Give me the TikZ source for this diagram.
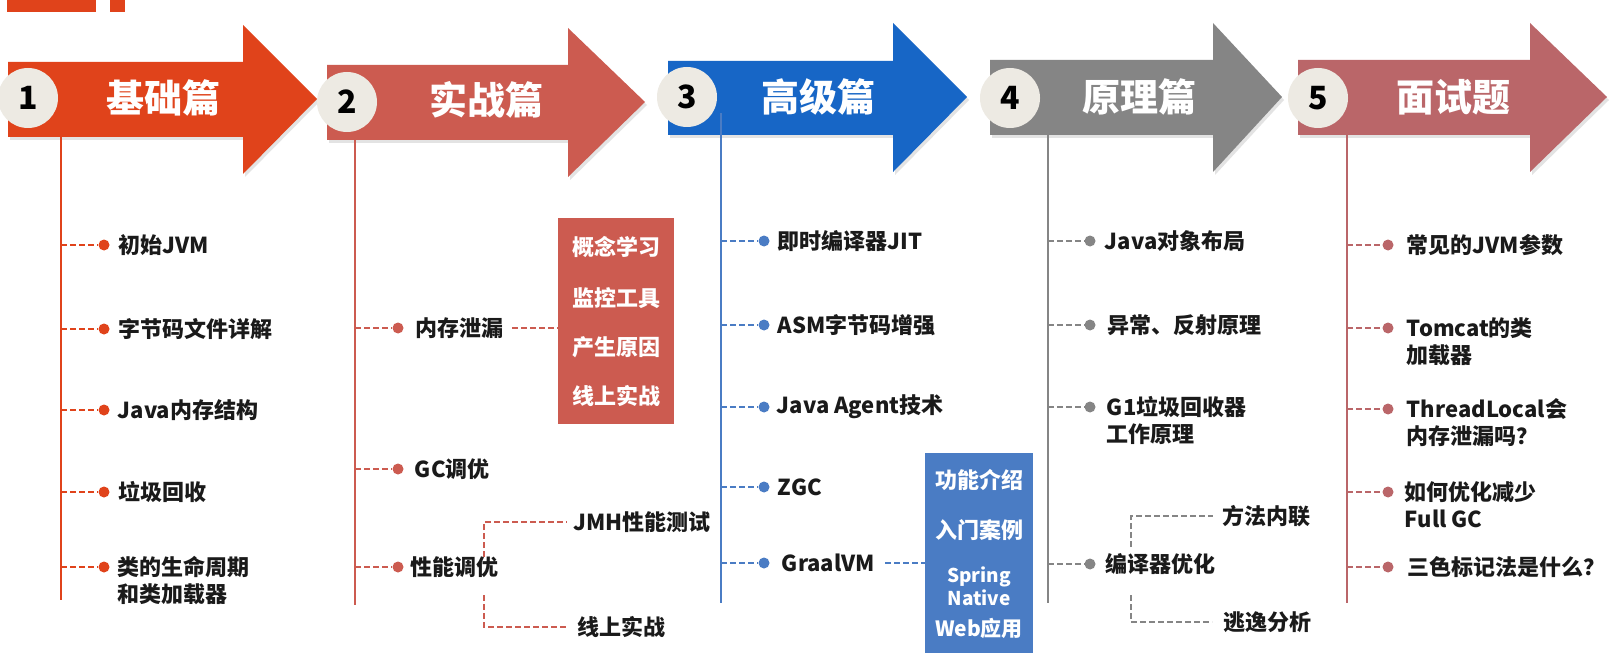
\documentclass[tikz,border=0pt]{standalone}
\usepackage{fontspec}
\setmainfont{Noto Sans CJK SC}
\usetikzlibrary{positioning,shadows}

\definecolor{c1}{HTML}{E0431B}
\definecolor{c2}{HTML}{CC5B50}
\definecolor{c3}{HTML}{1766C6}
\definecolor{c3l}{HTML}{4A7CC4}
\definecolor{c4}{HTML}{858585}
\definecolor{c5}{HTML}{BA6669}
\definecolor{disc}{HTML}{EDEAE3}
\definecolor{ink}{HTML}{1A1A1A}

\tikzset{
  chap/.style={fill=#1, drop shadow={opacity=.22, shadow xshift=2pt, shadow yshift=-3pt}},
  numdisc/.style={circle, fill=disc, minimum size=60pt, inner sep=0pt, text=black, font=\fontsize{32}{32}\selectfont\bfseries},
  hdr/.style={text=white, inner sep=0pt, font=\fontsize{38}{38}\selectfont\bfseries},
  trunk/.style={draw=#1, line width=2pt},
  leg/.style={draw=#1, line width=1.5pt, dash pattern=on 6pt off 3pt},
  bullet/.style={circle, fill=#1, minimum size=11pt, inner sep=0pt},
  item/.style={anchor=west, inner sep=0pt, text=ink, align=left, font=\fontsize{22}{27}\selectfont\bfseries},
  item2/.style={item, anchor=north west},
  subbox/.style={fill=#1, inner sep=0pt, anchor=north west},
  boxtxt/.style={text=white, inner sep=0pt, font=\fontsize{22}{22}\selectfont\bfseries},
}

\begin{document}
\begin{tikzpicture}[x=1pt, y=-1pt]
  \useasboundingbox (0,0) rectangle (1611,663);
  \fill[white] (0,0) rectangle (1611,663);

  % title bar, cut off at the top
  \fill[c1] (7,0) rectangle (96,12);
  \fill[c1] (110,0) rectangle (125,12);

  % chapter arrows
  \fill[chap=c1] (8,62) -- (243,62) -- (243,25) -- (317,99) -- (243,174) -- (243,137) -- (8,137) -- cycle;
  \fill[chap=c2] (327,65) -- (568,65) -- (568,28) -- (645,102) -- (568,177) -- (568,140) -- (327,140) -- cycle;
  \fill[chap=c3] (668,61) -- (893,61) -- (893,23) -- (967,97) -- (893,172) -- (893,135) -- (668,135) -- cycle;
  \fill[chap=c4] (990,60) -- (1213,60) -- (1213,23) -- (1282,97) -- (1213,172) -- (1213,135) -- (990,135) -- cycle;
  \fill[chap=c5] (1298,60) -- (1530,60) -- (1530,23) -- (1607,97) -- (1530,172) -- (1530,135) -- (1298,135) -- cycle;

  \node[numdisc] (n1) at (28,98) {1};
  \node[numdisc] (n2) at (347,102) {2};
  \node[numdisc] (n3) at (687,97) {3};
  \node[numdisc] (n4) at (1010,98) {4};
  \node[numdisc] (n5) at (1318,98) {5};

  \node[hdr] (h1) at (163,98) {基础篇};
  \node[hdr] (h2) at (486,100) {实战篇};
  \node[hdr] (h3) at (818,97) {高级篇};
  \node[hdr] (h4) at (1139,97) {原理篇};
  \node[hdr] (h5) at (1453,97) {面试题};

  % trunks
  \coordinate (t1) at (61,137);   \coordinate (t1e) at (61,600);
  \coordinate (t2) at (355,140);  \coordinate (t2e) at (355,605);
  \coordinate (t3) at (721,113);  \coordinate (t3e) at (721,603);
  \coordinate (t4) at (1048,135); \coordinate (t4e) at (1048,603);
  \coordinate (t5) at (1347,135); \coordinate (t5e) at (1347,603);
  \draw[trunk=c1] (t1) -- (t1e);
  \draw[trunk=c2] (t2) -- (t2e);
  \draw[trunk=c3l] (t3) -- (t3e);
  \draw[trunk=c4] (t4) -- (t4e);
  \draw[trunk=c5] (t5) -- (t5e);

  % 1 基础篇
  \node[bullet=c1] (d11) at (104,245) {};
  \node[bullet=c1] (d12) at (104,329) {};
  \node[bullet=c1] (d13) at (104,410) {};
  \node[bullet=c1] (d14) at (104,492) {};
  \node[bullet=c1] (d15) at (104,567) {};
  \draw[leg=c1] (t1 |- d11) -- (d11);
  \draw[leg=c1] (t1 |- d12) -- (d12);
  \draw[leg=c1] (t1 |- d13) -- (d13);
  \draw[leg=c1] (t1 |- d14) -- (d14);
  \draw[leg=c1] (t1 |- d15) -- (d15);
  \node[item, right=9pt of d11] (l11) {初始JVM};
  \node[item, right=9pt of d12] (l12) {字节码文件详解};
  \node[item, right=8pt of d13] (l13) {Java内存结构};
  \node[item, right=9pt of d14] (l14) {垃圾回收};
  \node[item2] (l15) at ([xshift=8pt, yshift=11pt]d15.east) {类的生命周期\\和类加载器};

  % 2 实战篇
  \node[bullet=c2] (d21) at (398,328) {};
  \node[bullet=c2] (d22) at (398,469) {};
  \node[bullet=c2] (d23) at (398,567) {};
  \draw[leg=c2] (t2 |- d21) -- (d21);
  \draw[leg=c2] (t2 |- d22) -- (d22);
  \draw[leg=c2] (t2 |- d23) -- (d23);
  \node[item, right=12pt of d21] (l21) {内存泄漏};
  \node[item, right=11pt of d22] (l22) {GC调优};
  \node[item, right=7pt of d23] (l23) {性能调优};

  \node[subbox=c2, minimum width=116pt, minimum height=206pt] (leakbox) at (558,218) {};
  \node[boxtxt] (k1) at (616,247) {概念学习};
  \node[boxtxt] (k2) at (616,298) {监控工具};
  \node[boxtxt] (k3) at (616,347) {产生原因};
  \node[boxtxt] (k4) at (616,396) {线上实战};
  \draw[leg=c2] ([xshift=8pt]l21.east) -- (leakbox.west |- l21.east);

  \coordinate (b2) at (484,567);
  \node[item] (m21) at (573,522) {JMH性能测试};
  \node[item] (m22) at (577,627) {线上实战};
  \draw[leg=c2, shorten >=6pt] ([yshift=10pt]b2) |- (m21.west);
  \draw[leg=c2, shorten >=10pt] ([yshift=-28pt]b2) |- (m22.west);

  % 3 高级篇
  \node[bullet=c3l] (d31) at (764,241) {};
  \node[bullet=c3l] (d32) at (764,325) {};
  \node[bullet=c3l] (d33) at (764,407) {};
  \node[bullet=c3l] (d34) at (764,487) {};
  \node[bullet=c3l] (d35) at (764,563) {};
  \draw[leg=c3l] (t3 |- d31) -- (d31);
  \draw[leg=c3l] (t3 |- d32) -- (d32);
  \draw[leg=c3l] (t3 |- d33) -- (d33);
  \draw[leg=c3l] (t3 |- d34) -- (d34);
  \draw[leg=c3l] (t3 |- d35) -- (d35);
  \node[item, right=8pt of d31] (l31) {即时编译器JIT};
  \node[item, right=8pt of d32] (l32) {ASM字节码增强};
  \node[item, right=7pt of d33] (l33) {Java Agent技术};
  \node[item, right=8pt of d34] (l34) {ZGC};
  \node[item, right=12pt of d35] (l35) {GraalVM};

  \node[subbox=c3l, minimum width=108pt, minimum height=200pt] (nativebox) at (925,453) {};
  \node[boxtxt] (g1) at (979,480) {功能介绍};
  \node[boxtxt] (g2) at (979,530) {入门案例};
  \node[boxtxt, font=\fontsize{19}{20}\selectfont\bfseries] (g3) at (979,577) {Spring};
  \node[boxtxt, font=\fontsize{19}{20}\selectfont\bfseries] (g4) at (979,598) {Native};
  \node[boxtxt, font=\fontsize{21}{21}\selectfont\bfseries] (g5) at (979,628) {Web应用};
  \draw[leg=c3l] ([xshift=10pt]l35.east) -- (nativebox.west |- l35.east);

  % 4 原理篇
  \node[bullet=c4] (d41) at (1090,241) {};
  \node[bullet=c4] (d42) at (1090,325) {};
  \node[bullet=c4] (d43) at (1090,407) {};
  \node[bullet=c4] (d44) at (1090,564) {};
  \draw[leg=c4] (t4 |- d41) -- (d41);
  \draw[leg=c4] (t4 |- d42) -- (d42);
  \draw[leg=c4] (t4 |- d43) -- (d43);
  \draw[leg=c4] (t4 |- d44) -- (d44);
  \node[item, right=9pt of d41] (l41) {Java对象布局};
  \node[item, right=12pt of d42] (l42) {异常、反射原理};
  \node[item2] (l43) at ([xshift=11pt, yshift=11pt]d43.east) {G1垃圾回收器\\工作原理};
  \node[item, right=10pt of d44] (l44) {编译器优化};

  \coordinate (b4) at (1131,564);
  \node[item] (m41) at (1222,516) {方法内联};
  \node[item] (m42) at (1223,622) {逃逸分析};
  \draw[leg=c4, shorten >=9pt] ([yshift=17pt]b4) |- (m41.west);
  \draw[leg=c4, shorten >=11pt] ([yshift=-31pt]b4) |- (m42.west);

  % 5 面试题
  \node[bullet=c5] (d51) at (1388,245) {};
  \node[bullet=c5] (d52) at (1388,328) {};
  \node[bullet=c5] (d53) at (1388,409) {};
  \node[bullet=c5] (d54) at (1388,492) {};
  \node[bullet=c5] (d55) at (1388,567) {};
  \draw[leg=c5] (t5 |- d51) -- (d51);
  \draw[leg=c5] (t5 |- d52) -- (d52);
  \draw[leg=c5] (t5 |- d53) -- (d53);
  \draw[leg=c5] (t5 |- d54) -- (d54);
  \draw[leg=c5] (t5 |- d55) -- (d55);
  \node[item, right=13pt of d51] (l51) {常见的JVM参数};
  \node[item2] (l52) at ([xshift=13pt, yshift=11pt]d52.east) {Tomcat的类\\加载器};
  \node[item2] (l53) at ([xshift=13pt, yshift=11pt]d53.east) {ThreadLocal会\\内存泄漏吗？};
  \node[item2] (l54) at ([xshift=11pt, yshift=11pt]d54.east) {如何优化减少\\Full GC};
  \node[item, right=14pt of d55] (l55) {三色标记法是什么？};
\end{tikzpicture}
\end{document}
